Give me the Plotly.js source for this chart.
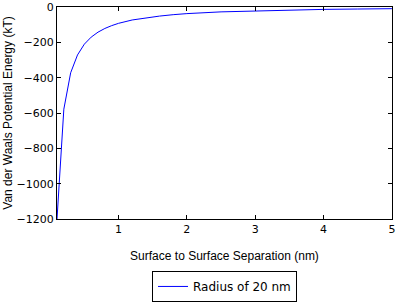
<!DOCTYPE html>
<html>
<head>
<meta charset="utf-8">
<script src="https://cdn.plot.ly/plotly-3.0.1.min.js"></script>
<style>html,body{margin:0;padding:0;background:#fff;}#chart{width:398px;height:308px;}</style>
</head>
<body>
<div id="chart"></div>
<script>
var separation = [0.1,0.2,0.3,0.4,0.5,0.6,0.7,0.8,0.9,1.0,1.2,1.4,1.6,1.8,2.0,2.5,3.0,3.5,4.0,4.5,5.0];
var energy = [-1200,-578,-372,-271,-210,-170,-142,-121,-105,-92,-73,-60,-51,-43,-37,-27,-21,-16,-13,-11,-9];
var seriesName = 'Radius of 20 nm';
var xTitle = 'Surface to Surface Separation (nm)';
var yTitle = 'Van der Waals Potential Energy (kT)';
var yTicks = [-1200,-1000,-800,-600,-400,-200,0];
var xTicks = [1,2,3,4,5];

var axisCommon = {
  showline: true, linecolor: '#000', linewidth: 1, mirror: 'ticks',
  ticks: 'inside', ticklen: 4, tickwidth: 1, tickcolor: '#000',
  showgrid: false, zeroline: false,
  tickfont: {family: 'DejaVu Sans', size: 11, color: '#000'}
};
var titleFont = {family: 'Liberation Sans', size: 12, color: '#000'};

var trace = {
  x: separation, y: energy, type: 'scatter', mode: 'lines',
  name: seriesName, line: {color: '#0000ff', width: 1}
};

var layout = {
  width: 398, height: 308,
  margin: {l: 57, r: 6, t: 7, b: 80},
  paper_bgcolor: '#fff', plot_bgcolor: '#fff',
  showlegend: true,
  legend: {x: 0.5, xanchor: 'center', y: -0.245, yanchor: 'top',
    bordercolor: '#000', borderwidth: 1, itemwidth: 30,
    font: {family: 'DejaVu Sans', size: 12, color: '#000'}},
  xaxis: Object.assign({}, axisCommon, {
    range: [0.1, 5.001], tickmode: 'array', tickvals: xTicks,
    title: {text: xTitle, font: titleFont, standoff: 16}
  }),
  yaxis: Object.assign({}, axisCommon, {
    range: [-1200, 0.5], tickmode: 'array', tickvals: yTicks,
    title: {text: yTitle, font: titleFont, standoff: 1}
  })
};

Plotly.newPlot('chart', [trace], layout, {displayModeBar: false, staticPlot: true});
</script>
</body>
</html>
